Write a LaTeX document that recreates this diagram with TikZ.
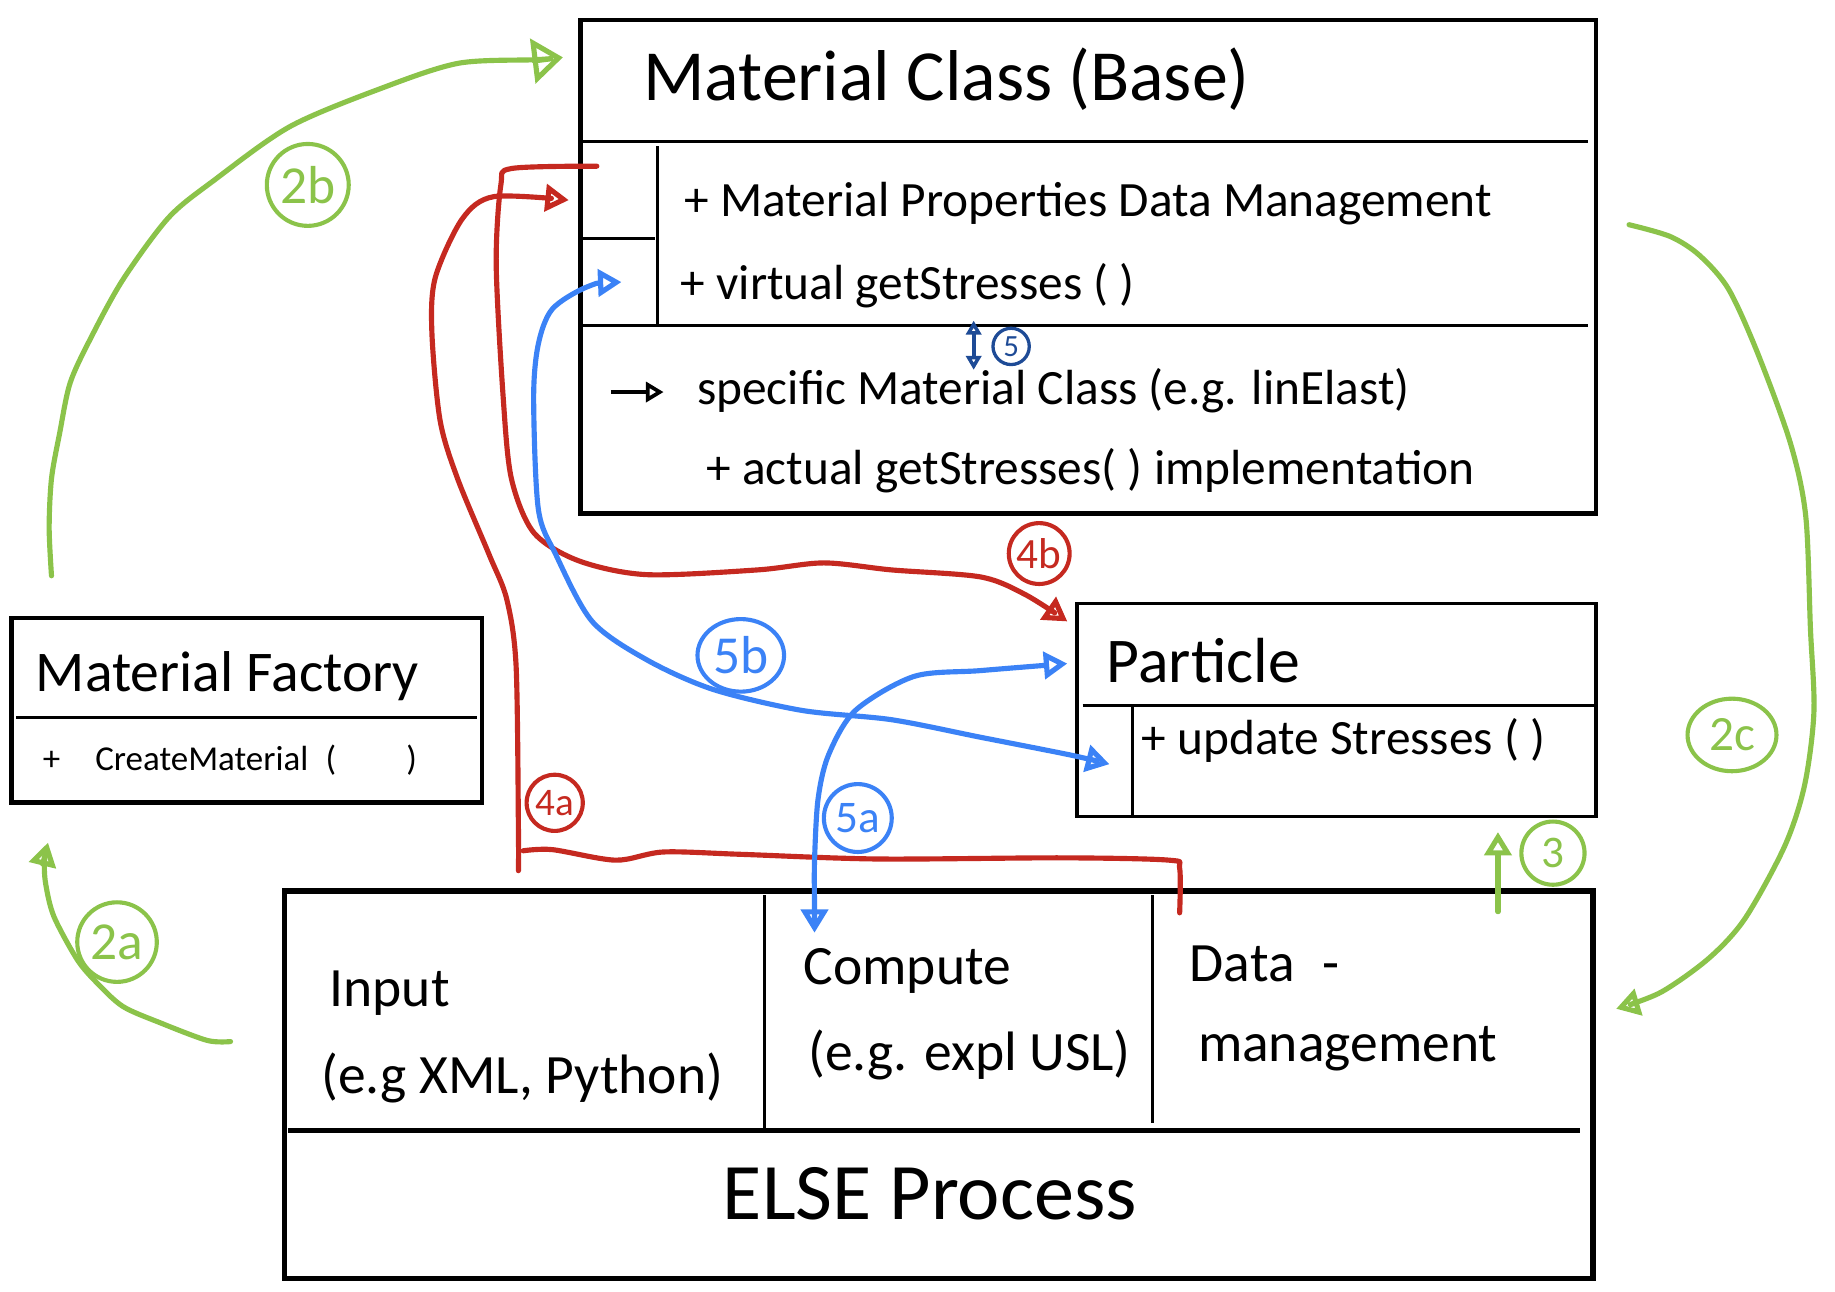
\documentclass[tikz,border=0pt]{standalone}
\usepackage{fontspec}
\setmainfont{Carlito}
\usetikzlibrary{arrows.meta,shapes.geometric}

\definecolor{sketchgreen}{RGB}{139,195,74}
\definecolor{sketchred}{RGB}{197,41,32}
\definecolor{sketchblue}{RGB}{59,130,246}
\definecolor{sketchnavy}{RGB}{30,75,150}

\newcommand{\memberfont}{\fontsize{12}{14}\selectfont}
\newcommand{\procfont}{\fontsize{13.5}{16}\selectfont}

\tikzset{
  box/.style={draw, line width=1.1pt, anchor=north west, inner sep=0pt},
  divider/.style={line width=0.8pt},
  txt/.style={anchor=base west, inner sep=0pt},
  numtag/.style={circle, draw=#1, text=#1, line width=1pt, inner sep=0pt},
  flow/.style={draw=#1, line width=1.25pt, line cap=round, line join=round},
  >={Triangle[open, length=2mm, width=2.3mm]}
}

\begin{document}
\begin{tikzpicture}[x=0.1mm, y=-0.1mm]
	\useasboundingbox (0,0) rectangle (1568,1104);

	% Material class (base)
	\node[box, minimum width=86.8mm, minimum height=42.2mm] (matclass) at (494,15) {};
	\draw[divider] (497,121) -- (1357,121);
	\draw[divider] (497,278) -- (1357,278);
	\draw[divider] (562,125) -- (562,277);
	\draw[divider] (498,204) -- (560,204);
	\node[txt, font=\fontsize{17.5}{20}\selectfont] (mctitle) at (549,86) {Material Class (Base)};
	\node[txt, font=\memberfont] (mcdata) at (584,185) {+ Material Properties Data Management};
	\node[txt, font=\memberfont] (mcvirtual) at (581,256) {+ virtual getStresses ( )};
	\node[txt, font=\memberfont] (mcspecific) at (595,346) {specific Material Class (e.g. linElast)};
	\node[txt, font=\memberfont] (mcactual) at (603,414) {+ actual getStresses( ) implementation};
	\coordinate (specarrow) at (522,335);
	\draw[line width=0.9pt, -{Triangle[open, length=1.5mm, width=1.7mm]}] (specarrow) -- (567,335);

	% Material factory
	\node[box, minimum width=40.2mm, minimum height=15.8mm] (factory) at (8,526) {};
	\draw[divider] (14,613) -- (408,613);
	\node[txt, font=\fontsize{14}{16}\selectfont] (facttitle) at (30,591) {Material Factory};
	\node[txt, font=\fontsize{8.5}{10}\selectfont] (factcreate) at (36,658) {+\quad CreateMaterial\enspace(\qquad)};

	% Particle
	\node[box, line width=0.9pt, minimum width=44.3mm, minimum height=18.2mm] (particle) at (919,514) {};
	\draw[divider] (925,603) -- (1362,603);
	\draw[divider] (968,603) -- (968,696);
	\node[txt, font=\fontsize{15.5}{18}\selectfont] (parttitle) at (945,583) {Particle};
	\node[txt, font=\memberfont] (partupdate) at (975,645) {+ update Stresses ( )};

	% ELSE process
	\node[box, line width=1.3pt, minimum width=111.8mm, minimum height=33.1mm] (elseproc) at (241,759) {};
	\draw[divider] (653,765) -- (653,965);
	\draw[divider] (985,765) -- (985,960);
	\draw[line width=1.1pt] (246,966) -- (1350,966);
	\node[txt, font=\procfont] (input) at (281,860) {Input};
	\node[txt, font=\procfont] (inputeg) at (274,934) {(e.g XML, Python)};
	\node[txt, font=\procfont] (compute) at (686,841) {Compute};
	\node[txt, font=\procfont] (computeeg) at (690,915) {(e.g. expl USL)};
	\node[txt, font=\procfont] (datamgmt) at (1016,839) {Data\enspace -};
	\node[txt, font=\procfont] (datamgmtb) at (1023,907) {management};
	\node[txt, font=\fontsize{19.5}{22}\selectfont] (elsetitle) at (617,1042) {ELSE Process};

	% Step tags
	\node[numtag=sketchgreen, minimum size=6.8mm, font=\fontsize{13}{13}\selectfont] (tag2a) at (100,805) {2a};
	\node[numtag=sketchgreen, minimum size=7mm, font=\fontsize{13}{13}\selectfont] (tag2b) at (263,158) {2b};
	\node[numtag=sketchgreen, ellipse, minimum width=7.6mm, minimum height=6.2mm, font=\fontsize{12}{12}\selectfont] (tag2c) at (1480,628) {2c};
	\node[numtag=sketchgreen, minimum size=5.4mm, font=\fontsize{11}{11}\selectfont] (tag3) at (1327,729) {3};
	\node[numtag=sketchred, minimum size=4.8mm, font=\fontsize{9.5}{10}\selectfont] (tag4a) at (474,686) {4a};
	\node[numtag=sketchred, minimum size=5.2mm, font=\fontsize{10.5}{11}\selectfont] (tag4b) at (888,473) {4b};
	\node[numtag=sketchblue, minimum size=5.8mm, font=\fontsize{11}{11}\selectfont] (tag5a) at (733,699) {5a};
	\node[numtag=sketchblue, ellipse, minimum width=7.4mm, minimum height=6.2mm, font=\fontsize{13}{13}\selectfont] (tag5b) at (633,560) {5b};
	\node[numtag=sketchnavy, minimum size=3.1mm, line width=0.8pt, font=\fontsize{7.5}{8}\selectfont] (tag5) at (864,296) {5};

	% Connector ends
	\coordinate (elseL) at (197,890);
	\coordinate (factB) at (41,720);
	\coordinate (factT) at (44,492);
	\coordinate (mcL) at (481,49);
	\coordinate (mcR) at (1392,192);
	\coordinate (elseR) at (1381,862);
	\coordinate (elseT) at (1280,779);
	\coordinate (partB) at (1280,711);
	\coordinate (dmT) at (1008,780);
	\coordinate (mcIn4a) at (486,171);
	\coordinate (mcOut4b) at (510,142);
	\coordinate (partIn4b) at (912,531);
	\coordinate (mcIn5b) at (531,241);
	\coordinate (partIn5b) at (948,653);
	\coordinate (partIn5a) at (912,567);
	\coordinate (compIn5a) at (696,797);
	\coordinate (stressUp) at (832,274);
	\coordinate (stressDn) at (832,316);

	% Green: factory and process flow
	\draw[flow=sketchgreen, ->] plot[smooth] coordinates {(elseL) (177,889) (137,874) (105,860) (83,840) (66,820) (46,783) (39,755) (38,736) (factB)};
	\draw[flow=sketchgreen, -{Triangle[open, length=2.6mm, width=3.8mm]}] plot[smooth] coordinates {(factT) (42,451) (44,409) (51,370) (60,327) (78,288) (105,239) (144,186) (183,154) (248,108) (327,75) (392,54) (458,51) (mcL)};
	\draw[flow=sketchgreen, ->] plot[smooth] coordinates {(mcR) (1427,202) (1452,218) (1477,247) (1502,302) (1530,379) (1543,441) (1547,537) (1550,608) (1542,671) (1525,723) (1491,785) (1460,819) (1419,848) (elseR)};
	\draw[flow=sketchgreen, ->] (elseT) -- (partB);

	% Red: data management to material class and particle
	\draw[flow=sketchred] plot[smooth] coordinates {(dmT) (1008,742) (999,735) (907,733) (750,734) (633,730) (567,728) (526,735) (472,726) (447,727)};
	\draw[flow=sketchred, ->] plot[smooth] coordinates {(443,744) (443,709) (441,569) (433,512) (418,474) (391,409) (376,359) (369,283) (372,237) (395,187) (422,168) (mcIn4a)};
	\draw[flow=sketchred, ->] plot[smooth] coordinates {(mcOut4b) (437,144) (428,158) (424,226) (430,340) (437,409) (456,455) (494,479) (552,491) (647,487) (704,481) (762,487) (838,493) (876,508) (partIn4b)};

	% Blue: stress calls
	\draw[flow=sketchblue, <->] plot[smooth] coordinates {(mcIn5b) (502,245) (472,264) (460,294) (456,340) (460,435) (475,474) (506,531) (553,564) (609,589) (685,607) (762,615) (838,630) (914,645) (partIn5b)};
	\draw[flow=sketchblue, <->] plot[smooth] coordinates {(partIn5a) (838,573) (781,578) (731,607) (708,645) (699,683) (696,736) (696,775) (compIn5a)};
	\draw[flow=sketchnavy, line width=0.9pt, <->, >={Triangle[open, length=1.2mm, width=1.3mm]}] (stressUp) -- (stressDn);
\end{tikzpicture}
\end{document}
